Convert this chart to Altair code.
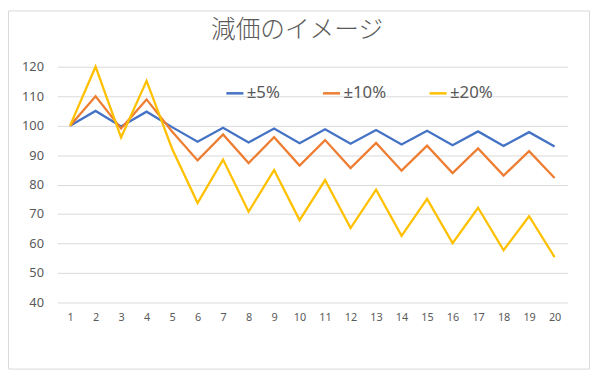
import altair as alt
import pandas as pd

periods = list(range(1, 21))
s5 = [100, 105, 99.75, 104.74, 99.50, 94.53, 99.25, 94.29, 99.03, 94.07,
      98.78, 93.84, 98.53, 93.60, 98.28, 93.37, 98.04, 93.14, 97.79, 92.90]
s10 = [100, 110, 99, 108.9, 98.01, 88.21, 97.03, 87.33, 96.06, 86.45,
       95.10, 85.59, 94.15, 84.73, 93.21, 83.89, 92.27, 83.05, 91.35, 82.22]
s20 = [100, 120, 96, 115.2, 92.16, 73.73, 88.47, 70.78, 84.93, 67.95,
       81.54, 65.23, 78.28, 62.62, 75.15, 60.12, 72.14, 57.71, 69.25, 55.40]
names = ["±5%", "±10%", "±20%"]
colors = ["#4472C4", "#ED7D31", "#FFC000"]
title_text = "減価のイメージ"

rows = []
for name, vals in zip(names, [s5, s10, s20]):
    for p, v in zip(periods, vals):
        rows.append({"period": p, "value": v, "series": name})
df = pd.DataFrame(rows)

lines = alt.Chart(df).mark_line(strokeWidth=2.3).encode(
    x=alt.X("period:O", scale=alt.Scale(type="point", padding=0.5),
            axis=alt.Axis(title=None, labelAngle=0, domain=False, ticks=False,
                          labelPadding=9, labelFontSize=11, labelColor="#595959",
                          grid=False)),
    y=alt.Y("value:Q", scale=alt.Scale(domain=[40, 120], nice=False, zero=False),
            axis=alt.Axis(title=None, values=list(range(40, 121, 10)), domain=False,
                          ticks=False, labelPadding=14, labelFontSize=13,
                          labelColor="#595959", gridColor="#d9d9d9", gridWidth=1)),
    color=alt.Color("series:N", sort=names,
                    scale=alt.Scale(domain=names, range=colors),
                    legend=alt.Legend(title=None, orient="none", legendX=170, legendY=17,
                                      direction="horizontal", symbolType="stroke",
                                      symbolStrokeWidth=2.5, symbolSize=300,
                                      labelFontSize=17, labelColor="#595959",
                                      columnPadding=38, labelOffset=2)),
)

one = pd.DataFrame({"t": [title_text]})

title = alt.Chart(one).mark_text(
    fontSize=25, font="Noto Sans CJK JP", fontWeight=300, color="#595959",
    align="center", baseline="middle", clip=False
).encode(text="t:N", x=alt.value(243), y=alt.value(-37))

frame = alt.Chart(one).mark_rect(
    fill=None, stroke="#d9d9d9", strokeWidth=1, clip=False
).encode(x=alt.value(-49.5), x2=alt.value(539.5), y=alt.value(-56.5), y2=alt.value(306.5))

chart = alt.layer(lines, title, frame).properties(
    width=517, height=239,
    autosize=alt.AutoSizeParams(type="none"),
    padding={"left": 50, "top": 57, "right": 25, "bottom": 70},
).configure(font="Noto Sans").configure_view(stroke=None)

chart.save("out.html", embed_options={"renderer": "svg", "actions": False})
